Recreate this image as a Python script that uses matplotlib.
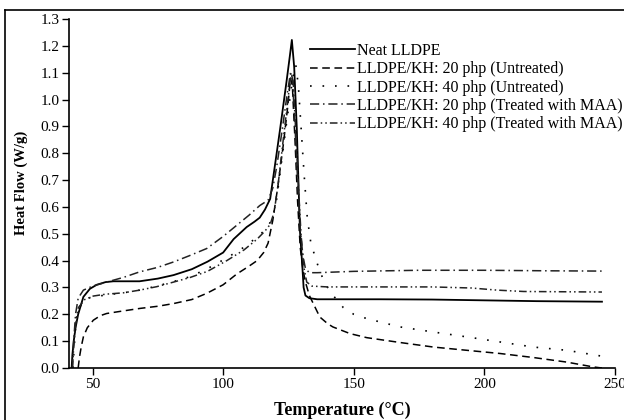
import numpy as np
import matplotlib
matplotlib.use("Agg")
import matplotlib.pyplot as plt
from matplotlib.lines import Line2D

plt.rcParams["font.family"] = ["Liberation Serif", "DejaVu Serif"]

# DSC curves (temperature in C, heat flow in W/g)
t_neat = [42.0, 42.3, 42.8, 43.5, 44.5, 46.5, 49, 51.6, 55, 58, 63, 68, 75, 81, 88, 94,
          100, 104, 109, 112, 114, 116, 118, 121.8, 124.3, 125.5, 126.3, 127.2, 128.2,
          129.4, 130.3, 130.8, 131.5, 133, 136, 160, 180, 200, 220, 245]
hf_neat = [0.0, 0.05, 0.10, 0.15, 0.20, 0.265, 0.295, 0.31, 0.32, 0.323, 0.323, 0.323,
           0.333, 0.346, 0.368, 0.396, 0.43, 0.48, 0.525, 0.545, 0.56, 0.59, 0.63, 0.89,
           1.07, 1.16, 1.222, 1.12, 0.89, 0.51, 0.38, 0.30, 0.27, 0.26, 0.256, 0.256,
           0.255, 0.252, 0.249, 0.247]

t_20u = [44.5, 45.0, 45.7, 46.5, 48, 50.3, 53, 55.4, 60, 68.2, 75, 81, 88, 93.7, 100,
         105.2, 110, 113, 115.5, 117.2, 119, 121, 123, 124.8, 125.8, 126.5, 127.5, 128.5,
         129.5, 130.5, 131.5, 133, 134.5, 137, 140, 142, 148.6, 155, 167.7, 180.5, 193.2,
         206, 218.8, 231.5, 241.7, 245]
hf_20u = [0.0, 0.04, 0.08, 0.116, 0.15, 0.178, 0.195, 0.203, 0.21, 0.222, 0.23, 0.24,
          0.255, 0.278, 0.31, 0.35, 0.38, 0.40, 0.43, 0.465, 0.55, 0.68, 0.83, 0.98, 1.08,
          1.05, 0.85, 0.62, 0.45, 0.37, 0.32, 0.27, 0.24, 0.19, 0.165, 0.153, 0.128,
          0.113, 0.095, 0.078, 0.066, 0.054, 0.039, 0.022, 0.004, 0.0]

t_40u = [42.5, 43.0, 43.5, 44.0, 46, 49, 55, 61.8, 68, 74.6, 81, 87.3, 94, 101.4, 108,
         112, 115, 117, 119, 120.5, 122.5, 124.5, 126.5, 127.8, 128.8, 129.8, 131, 132.2,
         133.5, 135, 136.5, 138.5, 141, 146, 150, 155, 167.7, 180.5, 193.2, 206, 218.8,
         231.5, 245]
hf_40u = [0.0, 0.08, 0.15, 0.20, 0.245, 0.262, 0.272, 0.28, 0.29, 0.305, 0.322, 0.34,
          0.37, 0.41, 0.45, 0.48, 0.505, 0.525, 0.56, 0.63, 0.78, 0.93, 1.07, 1.13, 1.05,
          0.90, 0.72, 0.56, 0.47, 0.42, 0.375, 0.325, 0.283, 0.225, 0.20, 0.184, 0.153,
          0.134, 0.116, 0.097, 0.078, 0.066, 0.044]

t_20t = [42.3, 42.8, 43.5, 44.5, 46.5, 50, 55.4, 62, 68, 75, 81, 87, 93.7, 100, 105, 110,
         114, 117.2, 119, 120.5, 122.5, 124.5, 125.8, 126.5, 127.5, 128.5, 129.5, 130.5,
         131.5, 133, 136, 150, 175, 200, 225, 245]
hf_20t = [0.0, 0.10, 0.20, 0.26, 0.29, 0.305, 0.32, 0.338, 0.358, 0.375, 0.395, 0.418,
          0.445, 0.49, 0.53, 0.57, 0.605, 0.625, 0.67, 0.75, 0.88, 1.02, 1.10, 1.08, 0.90,
          0.70, 0.52, 0.42, 0.37, 0.355, 0.355, 0.36, 0.364, 0.364, 0.362, 0.361]

t_40t = [42.3, 42.8, 43.5, 44.6, 47, 50.3, 55, 61.8, 68, 74.6, 81, 87.3, 94, 101.4, 108,
         113, 116, 118, 119.5, 121, 123, 124.8, 126, 126.8, 127.8, 128.8, 129.8, 130.8,
         132, 134, 140, 160, 180, 195, 205, 215, 245]
hf_40t = [0.0, 0.08, 0.16, 0.225, 0.255, 0.268, 0.275, 0.28, 0.29, 0.303, 0.32, 0.337,
          0.36, 0.40, 0.44, 0.48, 0.51, 0.535, 0.58, 0.68, 0.85, 1.0, 1.10, 1.07, 0.88,
          0.68, 0.50, 0.38, 0.32, 0.305, 0.302, 0.302, 0.302, 0.298, 0.29, 0.285, 0.283]

labels = ["Neat LLDPE",
          "LLDPE/KH: 20 php (Untreated)",
          "LLDPE/KH: 40 php (Untreated)",
          "LLDPE/KH: 20 php (Treated with MAA)",
          "LLDPE/KH: 40 php (Treated with MAA)"]

fig = plt.figure(figsize=(6.24, 4.2), dpi=100)
ax = fig.add_axes([0.1106, 0.1238, 0.875, 0.831])

lw = 1.1
ax.plot(t_neat, hf_neat, color="black", lw=1.3, ls="-", label=labels[0])
ax.plot(t_20u, hf_20u, color="black", lw=lw, ls=(0, (5, 3)), label=labels[1])
ax.plot(t_40u, hf_40u, color="black", lw=1.2, ls=(0, (1, 6.5)), label=labels[2])
ax.plot(t_20t, hf_20t, color="#222222", lw=lw, ls=(0, (6, 2.5, 1, 2.5)), label=labels[3])
ax.plot(t_40t, hf_40t, color="#222222", lw=lw, ls=(0, (5, 2, 1, 2, 1, 2)), label=labels[4])

ax.set_xlim(41, 250)
ax.set_ylim(0, 1.3)
ax.set_xticks([50, 100, 150, 200, 250])
ax.set_yticks(np.arange(0, 1.31, 0.1))
ax.set_yticklabels(["%.1f" % v for v in np.arange(0, 1.31, 0.1)])
ax.tick_params(direction="out", length=5, width=1, labelsize=11, pad=2)
for s in ["top", "right"]:
    ax.spines[s].set_visible(False)
for s in ["left", "bottom"]:
    ax.spines[s].set_linewidth(1.2)

ax.set_xlabel("Temperature (°C)", fontsize=13, fontweight="bold", labelpad=8)
ax.set_ylabel("Heat Flow (W/g)", fontsize=10.5, fontweight="bold")
ax.yaxis.set_label_coords(-0.075, 0.53)

ax.legend(loc="upper left", bbox_to_anchor=(0.43, 0.95), frameon=False,
          fontsize=11.5, handlelength=2.8, handletextpad=0.15, labelspacing=0.15,
          borderaxespad=0)

# outer frame of the original figure
fig.add_artist(Line2D([0.008, 1.0], [0.976, 0.976], color="black", lw=1.2,
                      transform=fig.transFigure))
fig.add_artist(Line2D([0.008, 0.008], [0.0, 0.976], color="black", lw=1.2,
                      transform=fig.transFigure))

fig.savefig("out.png", dpi=100)
